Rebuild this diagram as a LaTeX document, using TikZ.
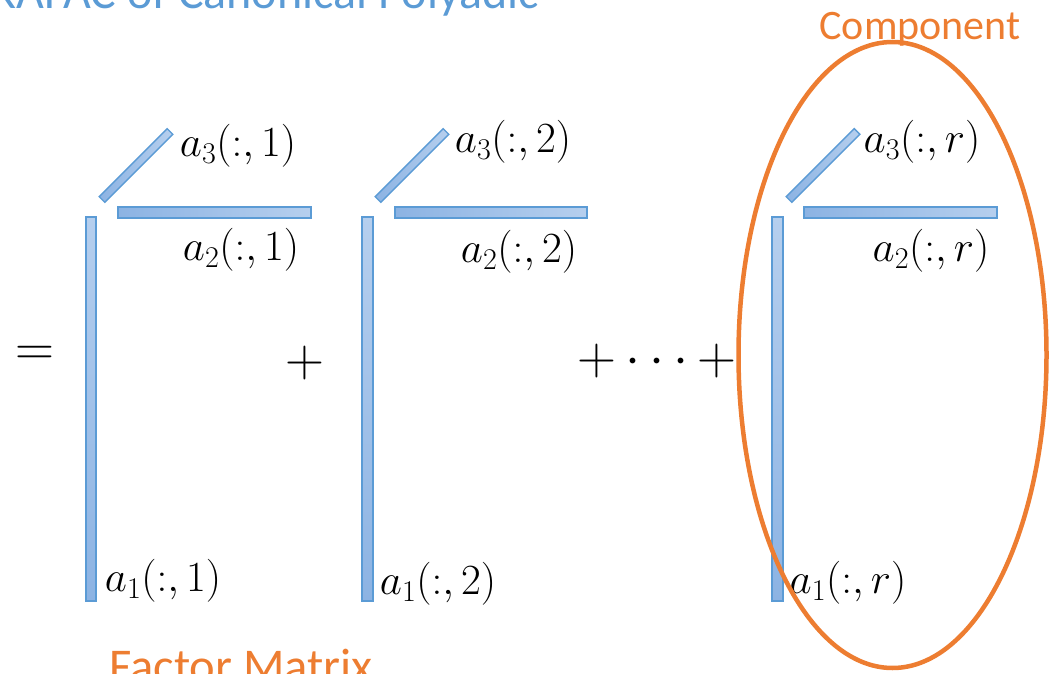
\RequirePackage{fix-cm}
\documentclass[tikz,border=0pt]{standalone}
\usepackage{fontspec}
\newfontfamily\carlito{Carlito}
\definecolor{barA}{HTML}{8CB3E3}
\definecolor{barB}{HTML}{B6CFEE}
\definecolor{barE}{HTML}{5B9BD5}
\definecolor{orng}{HTML}{ED7D31}
\definecolor{ttl}{HTML}{5B9BD5}
\begin{document}
\begin{tikzpicture}[x=1pt,y=-1pt,
  bar/.style={draw=barE,line width=1.4pt},
  hbar/.style={bar,left color=barA,right color=barB},
  vbar/.style={bar,top color=barB,bottom color=barA},
  dbar/.style={bar,left color=barA,right color=barB},
  lbl/.style={inner sep=0pt,font=\fontsize{43}{50}\selectfont},
  op/.style={inner sep=0pt,font=\fontsize{54}{60}\selectfont},
  otext/.style={inner sep=0pt,text=orng,font=\carlito\fontsize{42}{50}\selectfont}]
\useasboundingbox (0,0) rectangle (1055,674);
\clip (0,0) rectangle (1055,674);

\node[anchor=base west,inner sep=0pt,text=ttl,font=\carlito\fontsize{48}{56}\selectfont] (title) at (-10,9) {RAFAC of Canonical Polyadic};

% component 1
\shadedraw[vbar] (86,217) rectangle (96,601);
\shadedraw[hbar] (118,207) rectangle (311,218);
\shadedraw[dbar] (99.2,196.7) -- (104.8,202.3) -- (172.8,134.3) -- (167.2,128.7) -- cycle;
\node[lbl] (a31) at (238,146) {$a_3(:,1)$};
\node[lbl] (a21) at (241,250) {$a_2(:,1)$};
\node[lbl] (a11) at (163,581) {$a_1(:,1)$};

% component 2
\shadedraw[vbar] (362,217) rectangle (373,601);
\shadedraw[hbar] (395,207) rectangle (587,218);
\shadedraw[dbar] (375.2,196.7) -- (380.8,202.3) -- (448.8,134.3) -- (443.2,128.7) -- cycle;
\node[lbl] (a32) at (513,142) {$a_3(:,2)$};
\node[lbl] (a22) at (519,252) {$a_2(:,2)$};
\node[lbl] (a12) at (438,584) {$a_1(:,2)$};

% component r
\shadedraw[vbar] (772,217) rectangle (783,601);
\shadedraw[hbar] (804,207) rectangle (997,218);
\shadedraw[dbar] (786.2,196.7) -- (791.8,202.3) -- (859.8,134.3) -- (854.2,128.7) -- cycle;
\node[lbl] (a3r) at (922,142) {$a_3(:,r)$};
\node[lbl] (a2r) at (931,251) {$a_2(:,r)$};
\node[lbl] (a1r) at (848,583) {$a_1(:,r)$};

% operators
\node[op] (eq) at (35,356) {$=$};
\node[op] (plus1) at (305,363) {$+$};
\node[op] (dots) at (657,361) {$+\cdots+$};

% ellipse
\draw[orng,line width=4.5pt] (892.5,355) ellipse [x radius=154, y radius=313];

\node[otext] (comp) at (920,29) {Component};
\node[otext,anchor=base,font=\carlito\fontsize{48.5}{56}\selectfont] (fm) at (241,682) {Factor Matrix};
\end{tikzpicture}
\end{document}
